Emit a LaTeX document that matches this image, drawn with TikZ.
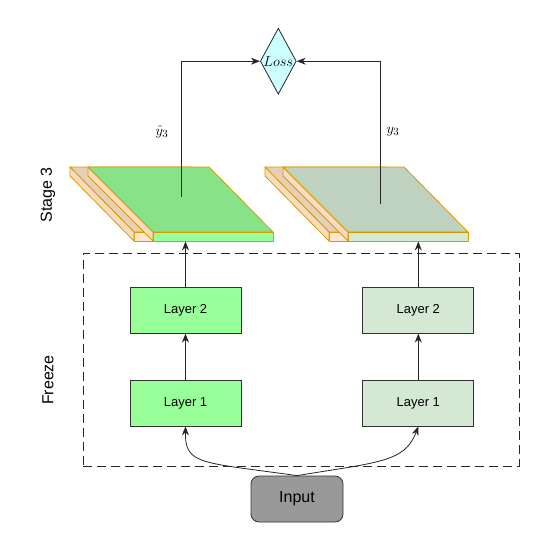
\documentclass[tikz,border=0pt]{standalone}
\usepackage[no-math]{fontspec}
\setmainfont{Liberation Sans}
\usepackage{xcolor}
\usepackage{amsmath}
\usepackage{tikz}
\usetikzlibrary{arrows.meta,positioning,shapes.geometric}

\definecolor{edgeorange}{HTML}{D79B00}
\definecolor{tanback}{HTML}{E6D0B7}
\definecolor{peachside}{HTML}{F9DCBF}
\definecolor{peachfront}{HTML}{FFE6CC}
\definecolor{topA}{HTML}{88E388}
\definecolor{frontA}{HTML}{99FF99}
\definecolor{topB}{HTML}{BFD1BF}
\definecolor{frontB}{HTML}{D5E8D4}
\definecolor{lossfill}{HTML}{CCFFFF}
\definecolor{inputgray}{HTML}{999999}

\begin{document}
\begin{tikzpicture}[
  x=1pt, y=-1pt,
  font=\fontsize{13}{15}\selectfont,
  >={Stealth[length=9pt,width=7pt]},
  layer/.style={draw=black!80, line width=0.8pt, minimum width=111pt, minimum height=46pt, inner sep=0pt},
  slabedge/.style={draw=edgeorange, line width=0.8pt, line join=round},
  line/.style={->, line width=0.8pt, draw=black!85},
  sidelbl/.style={rotate=90, font=\fontsize{16}{18}\selectfont},
  mathlbl/.style={font=\fontsize{15.5}{18}\selectfont},
  lossnode/.style={diamond, draw=black!85, line width=0.8pt, fill=lossfill, minimum width=36pt, minimum height=66pt, inner sep=0pt},
  inputbox/.style={draw=black!80, line width=0.8pt, rounded corners=8pt, fill=inputgray, minimum width=92pt, minimum height=46pt, font=\fontsize{16}{18}\selectfont},
  freezebox/.style={draw=black!85, line width=0.8pt, dash pattern=on 9pt off 5pt, minimum width=436pt, minimum height=213pt, inner sep=0pt}
]
\useasboundingbox (0,0) rectangle (548,552);

% dashed frozen region
\node[freezebox] (frz) at (301,359.5) {};

% stacked outputs of stage 3
\foreach \dx/\topc/\frontc/\nm in {0/topA/frontA/A,195/topB/frontB/B}{
  \begin{scope}[xshift=\dx]
    % back slab
    \filldraw[slabedge, fill=tanback] (70,167) -- (191,167) -- (255,232) -- (134,232) -- cycle;
    \filldraw[slabedge, fill=peachfront] (134,232) rectangle (255,241);
    \filldraw[slabedge, fill=peachside] (70,167) -- (134,232) -- (134,241) -- (70,176) -- cycle;
    % front slab
    \filldraw[slabedge, fill=peachside] (88,167) -- (153,232) -- (153,241) -- (88,176) -- cycle;
    \filldraw[slabedge, fill=\topc] (88,167) -- (209,167) -- (273,232) -- (153,232) -- cycle;
    \node[slabedge, fill=\frontc, minimum width=120pt, minimum height=9pt, inner sep=0pt] (face\nm) at (213,236.5) {};
  \end{scope}
}

\coordinate (yhA) at (181,197);
\coordinate (yB) at (380,204);

\node[lossnode, label={[mathlbl]center:$Loss$}] (loss) at (278.3,61.2) {};
\node[mathlbl] (yhlbl) at (162,132) {$\hat{y}_3$};
\node[mathlbl] (ylbl) at (393,132) {$y_3$};

\node[sidelbl] (stg) at (48,195) {Stage 3};
\node[sidelbl] (frzlbl) at (48,380) {Freeze};

% layers
\node[layer, fill=frontA] (l1A) at (185.5,403) {Layer 1};
\node[layer, fill=frontA, above=46pt of l1A] (l2A) {Layer 2};
\node[layer, fill=frontB, right=121pt of l1A] (l1B) {Layer 1};
\node[layer, fill=frontB, above=46pt of l1B] (l2B) {Layer 2};

\node[inputbox] (inp) at (297,499) {Input};

\draw[line] (l1A) -- (l2A);
\draw[line] (l2A) -- (l2A.north |- faceA.south);
\draw[line] (l1B) -- (l2B);
\draw[line] (l2B) -- (l2B.north |- faceB.south);
\draw[line] (yhA) |- (loss.west);
\draw[line] (yB) |- (loss.east);
\draw[line] (inp.north) .. controls (200,462) and (185,465) .. (l1A.south);
\draw[line] (inp.north) .. controls (380,462) and (405,462) .. (l1B.south);
\end{tikzpicture}
\end{document}
